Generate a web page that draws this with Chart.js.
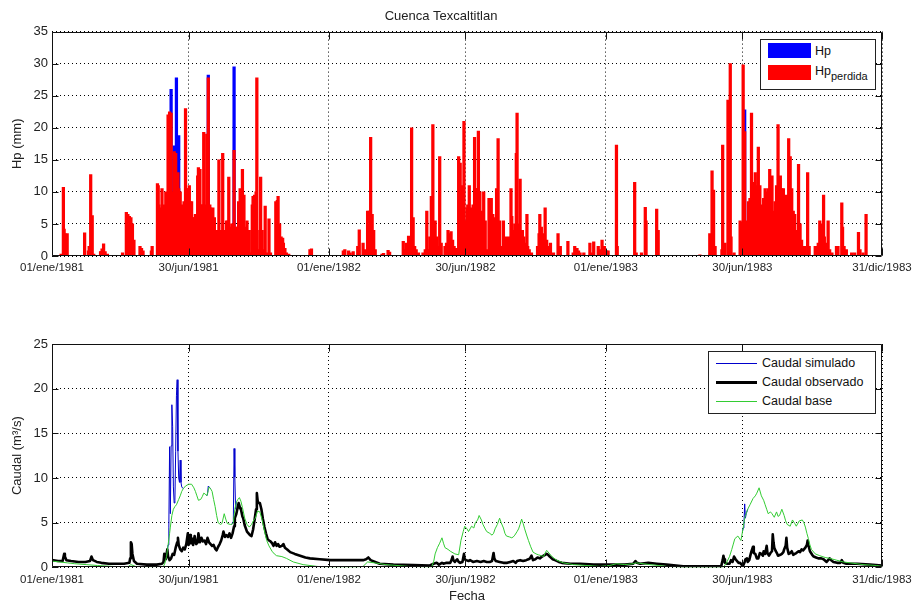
<!DOCTYPE html>
<html lang="es">
<head>
<meta charset="utf-8">
<title>Cuenca Texcaltitlan</title>
<script src="https://cdn.jsdelivr.net/npm/chart.js@4.4.1/dist/chart.umd.min.js"></script>
<style>
  body { margin: 0; width: 916px; height: 604px; background: #fff; position: relative; overflow: hidden;
         font-family: "Liberation Sans", Arial, sans-serif; color: #111; }
  canvas { position: absolute; left: 0; }
  .leyenda { position: absolute; box-sizing: border-box; border: 1px solid #222; background: #fff; font-size: 12.5px; }
  .leyenda span { position: absolute; white-space: nowrap; line-height: 15px; }
  .muestra { width: 43px; height: 15px; }
  .linea { width: 41px; }
  sub { font-size: 11px; vertical-align: -5px; }
</style>
</head>
<body>
<canvas id="graficoHp" width="916" height="290" style="top:0"></canvas>
<canvas id="graficoCaudal" width="916" height="304" style="top:300px"></canvas>

<div class="leyenda" style="left:760px;top:39px;width:116px;height:51px">
  <span class="muestra" style="left:7px;top:3px;background:#0000ff"></span>
  <span style="left:54px;top:4px">Hp</span>
  <span class="muestra" style="left:7px;top:25px;background:#ff0000"></span>
  <span style="left:54px;top:24px">Hp<sub>perdida</sub></span>
</div>

<div class="leyenda" style="left:708px;top:351px;width:168px;height:63px">
  <span class="linea" style="left:7px;top:11px;height:1px;background:#0000cc"></span>
  <span style="left:53px;top:4px">Caudal simulado</span>
  <span class="linea" style="left:7px;top:29px;height:3px;background:#000"></span>
  <span style="left:53px;top:23px">Caudal observado</span>
  <span class="linea" style="left:7px;top:49px;height:1px;background:#33cc33"></span>
  <span style="left:53px;top:42px">Caudal base</span>
</div>

<script>
// dia 0 = 01/ene/1981
const ticksDias = [0, 180, 365, 545, 730, 910, 1094];
const ticksEtiquetas = ['01/ene/1981', '30/jun/1981', '01/ene/1982', '30/jun/1982', '01/ene/1983', '30/jun/1983', '31/dic/1983'];

// Hp perdida (mm) [dia, valor]
const hpPerdida = [
  [12,0.3],[15,10.7],[16,4.2],[17,3.5],[20,3.5],[43,3.6],[48,0.8],[49,1.5],[51,12.7],[53,6.3],[55,0.3],
  [64,0.7],[65,0.7],[66,1.1],[68,1.9],[70,0.7],[73,0.3],[93,0.5],[98,6.8],[100,6.5],[102,6.2],[104,6.0],
  [106,5.0],[108,2.5],[116,1.5],[118,1.2],[120,0.8],[131,0.8],[132,1.5],
  [139,11.3],[140,11],[141,8],[143,7.5],[145,10.5],[147,7],[148,8],[150,10],[151,1],[153,22],[155,22.5],
  [157,22.3],[160,10],[161,16.3],[163,16],[164,10.5],[166,13],[167,10.5],[169,10],[171,8],[172,7.5],
  [174,8.5],[176,23],[177,10.5],[179,10.5],[181,11],[182,8.5],[184,8.5],[186,6],[188,6],[189,6.5],
  [192,12.5],[193,13.8],[195,13.5],[197,8],[198,8],[200,19.3],[202,8],[203,1],[204,19],[206,27.8],
  [208,8],[209,7.5],[211,0.5],[212,7.5],[214,6],[216,3.8],[217,4],[220,15],[221,4],[223,4],[225,16],
  [226,4],[228,4],[230,5.5],[232,5.5],[233,12.3],[235,4.5],[237,5],[239,5],[240,16.5],[242,4.5],
  [244,4.5],[246,8.5],[248,10.5],[250,10],[251,13.5],[253,9.5],[255,4.5],[257,5.5],[258,3],[260,4],
  [262,0.5],[264,8],[265,9.3],[267,9.5],[269,10],[270,27.8],[272,1],[274,4],[275,12.3],[277,4],[279,1],
  [281,7.8],[283,0.5],[286,5.8],[288,0.5],[295,8.5],[297,8.7],[298,9.3],[300,5],[302,3],[304,2.8],
  [305,2],[307,1.2],[309,0.5],[312,0.3],[340,1.0],[342,1.1],
  [384,0.8],[386,1.0],[391,0.8],[393,0.5],[397,0.7],[403,1.5],[405,4.1],[410,2.0],[413,1],[416,7.0],
  [418,7.0],[420,18.5],[422,6.5],[424,4],[426,1],[435,0.3],[437,0.4],[443,0.9],[445,0.6],
  [463,2.3],[465,1],[467,2],[470,3.1],[472,1.5],[474,20],[476,6],[478,1.5],[480,1],[483,0.5],[489,0.5],
  [492,1],[494,7],[496,1],[498,3],[500,9.3],[502,20.5],[503,5.3],[505,5.5],[507,3],[509,1.5],[511,15.5],
  [513,2],[518,1.5],[520,2],[522,4],[525,3.5],[526,3.8],[528,2.5],[530,1.5],[532,1.2],[534,1.2],
  [536,15.5],[538,14.5],[541,11],[543,21],[545,5.5],[547,7.5],[548,8],[550,11],[552,7.5],[554,6],
  [555,8],[557,18.5],[559,10.5],[561,10.5],[562,19.5],[564,10],[566,7],[568,5],[569,10],[571,5.5],
  [573,1],[576,9],[577,9],[579,9],[581,6.5],[583,6],[584,5],[586,10.5],[588,18.3],[590,5.5],[591,1.5],
  [593,1.5],[595,5.5],[597,1.5],[599,3],[601,2.5],[603,3],[605,10.5],[606,6.2],[608,4],[610,5],
  [612,16],[613,22.3],[615,5],[617,12],[619,4],[620,4],[622,3],[624,2],[626,6.5],[627,1.5],[629,1],
  [632,0.5],[640,1.5],[642,3.5],[643,6.5],[645,4.5],[647,3.5],[649,2],[650,7.5],[652,2.5],[654,1.5],
  [657,2],[661,0.5],[667,3.5],[670,1.5],[680,2.3],[687,0.5],[689,1.5],[692,1.2],[694,0.8],[696,0.5],
  [701,0.5],[709,2],[711,0.5],[714,2.2],[720,1.5],[722,1],[725,2.5],[728,1.5],[731,0.8],[733,0.8],
  [744,17.3],[745,1.5],[768,11.5],[770,0.5],[777,0.5],[782,7.6],[783,5.5],[797,7.3],[799,4],[854,0.2],
  [867,3.5],[870,13.3],[872,10.3],[874,1.5],[883,1],[884,17.3],[887,2],[891,24.3],[894,30],[895,3],
  [899,0.5],[907,5.5],[909,5.3],[911,29.8],[913,19.4],[916,5.5],[918,8.5],[920,9],[922,22.3],[924,11.5],
  [927,13],[929,11],[931,17],[933,11],[935,8],[938,9],[940,10.5],[942,10],[944,10.5],[946,13.5],
  [949,12.5],[951,7],[953,8.5],[955,11],[957,20.5],[960,12.5],[962,10.5],[964,10.5],[966,6.5],[968,9.5],
  [971,18.3],[973,15.5],[975,10.5],[977,7],[979,6.5],[982,4],[984,14.3],[986,5],[988,2.5],[990,1.5],
  [992,1.5],[996,13],[998,1.5],[1006,1.5],[1008,1.5],[1010,2],[1012,5.5],[1014,5],[1017,9.5],[1018,3],
  [1021,2],[1023,5.5],[1025,1],[1028,0.5],[1034,1.5],[1036,1.5],[1041,8.3],[1042,4.5],[1044,1.5],
  [1047,1],[1054,0.5],[1058,0.5],[1063,3.7],[1065,1],[1069,0.5],[1073,6.5]
];

// Hp total (mm), dias en que supera a Hp perdida
const hpTotal = [[157,26],[161,17.2],[164,27.8],[167,18.8],[206,28.2],[240,29.5],[913,22.8]];

// Caudal base (m3/s)
const qBase = [
  [0,0.7],[10,0.6],[20,0.5],[30,0.4],[45,0.3],[60,0.2],[80,0.1],[100,0.05],[104,0.3],[110,0.1],[130,0.05],
  [147,0.1],[149,0.5],[151,1.2],[153,2.5],[155,3.8],[156,4.5],[158,5.8],[160,6.5],[162,6.8],[164,7.0],
  [167,7.6],[169,8.0],[171,8.5],[173,8.8],[176,9.1],[180,9.3],[184,9.3],[187,8.9],[189,8.5],[191,8.0],
  [193,7.5],[196,7.6],[198,7.9],[200,8.3],[202,8.2],[204,8.0],[206,8.6],[207,9.0],[209,8.8],[211,8.5],
  [213,7.6],[215,6.8],[217,5.8],[219,5.0],[222,4.8],[224,4.9],[227,6.0],[229,5.4],[231,4.9],[235,4.8],
  [237,4.8],[239,5.0],[241,6.5],[243,7.3],[245,7.6],[247,7.8],[249,7.4],[251,6.7],[254,5.5],[257,4.8],
  [260,4.5],[263,4.8],[266,5.3],[268,5.5],[271,6.3],[274,6.2],[277,5.3],[279,4.5],[281,3.7],[283,3.0],
  [286,2.4],[290,1.8],[293,1.5],[296,1.3],[303,1.2],[309,1.0],[318,0.6],[331,0.3],[349,0.1],[360,0.05],
  [400,0],[410,0.1],[416,0.6],[425,0.5],[440,0.3],[470,0.1],[500,0],[503,0.6],[505,1.5],[508,2.2],
  [511,2.7],[514,3.3],[516,2.7],[518,2.2],[522,2.0],[525,1.8],[531,1.5],[536,1.4],[539,3.0],[542,4.0],
  [544,4.6],[547,4.3],[549,4.0],[551,4.3],[553,4.6],[556,4.4],[558,5.0],[561,5.3],[563,5.8],[566,5.3],
  [568,4.8],[571,4.3],[573,4.0],[577,3.8],[580,3.6],[582,3.8],[584,4.3],[587,4.8],[590,5.5],[592,5.0],
  [595,4.4],[597,3.8],[599,3.5],[603,3.4],[606,3.3],[608,3.4],[610,3.6],[613,4.0],[615,4.3],[617,4.8],
  [619,5.4],[621,4.9],[623,4.3],[626,3.5],[628,3.0],[631,2.3],[634,1.7],[638,1.5],[641,1.4],[645,1.3],
  [648,1.2],[650,1.6],[652,1.9],[655,1.6],[659,1.2],[665,0.8],[674,0.5],[687,0.3],[705,0.2],[722,0.1],
  [735,0.2],[744,0.4],[755,0.3],[766,0.4],[770,0.5],[788,0.3],[800,0.2],[810,0.1],[832,0],[885,0],
  [889,0.5],[893,1.2],[896,2.0],[898,2.6],[900,3.2],[904,3.5],[908,3.0],[911,4.4],[913,5.5],[915,6.0],
  [917,6.5],[920,7.0],[924,7.7],[927,8.0],[929,8.3],[932,8.9],[935,8.0],[938,7.5],[940,7.0],[942,6.5],
  [944,6.0],[947,6.2],[949,6.0],[952,5.6],[955,6.2],[957,5.7],[959,5.8],[962,6.5],[965,5.8],[967,5.2],
  [969,4.8],[973,4.6],[976,5.3],[979,4.9],[981,4.6],[985,5.2],[989,5.3],[991,5.0],[993,4.5],[995,3.8],
  [997,3.2],[999,2.5],[1001,2.0],[1006,1.5],[1012,1.3],[1019,1.1],[1025,1.0],[1034,0.8],[1043,0.6],
  [1052,0.5],[1069,0.3],[1087,0.2],[1094,0.1]
];

// Caudal observado (m3/s)
const qObs = [
  [0,0.8],[8,0.7],[14,0.7],[16,1.5],[17,1.2],[19,0.8],[25,0.7],[35,0.6],[44,0.6],[50,0.7],[52,1.2],
  [54,0.8],[59,0.6],[65,0.5],[75,0.4],[85,0.4],[95,0.4],[102,0.5],[103,1.0],[104,2.8],[105,2.6],[106,1.5],
  [108,0.7],[112,0.4],[125,0.3],[138,0.3],[145,0.4],[147,0.6],[148,1.5],[149,0.9],[150,1.0],[152,2.0],
  [153,1.2],[155,0.8],[157,1.0],[159,1.5],[161,1.4],[163,2.2],[165,2.8],[166,3.3],[167,2.5],[169,2.0],
  [171,1.8],[173,2.2],[175,2.0],[177,2.6],[179,3.8],[180,2.5],[182,3.6],[183,2.7],[185,3.2],[186,2.5],
  [188,3.5],[190,2.6],[192,2.8],[193,3.8],[195,2.8],[197,3.3],[199,2.9],[201,3.0],[203,2.6],[205,3.3],
  [207,2.8],[209,2.6],[211,2.4],[213,2.5],[215,2.1],[217,1.9],[219,2.3],[221,2.6],[223,3.0],[225,3.6],
  [226,4.0],[228,3.4],[230,3.6],[232,3.4],[234,3.8],[236,3.3],[238,3.8],[240,4.6],[241,5.5],[243,6.0],
  [245,6.8],[246,7.2],[248,6.6],[249,6.5],[251,5.7],[252,5.5],[254,4.7],[257,4.0],[259,3.8],[261,3.6],
  [263,3.5],[265,4.2],[267,5.3],[269,6.5],[270,8.3],[271,7.5],[272,7.2],[274,7.2],[276,6.5],[278,5.4],
  [280,4.5],[282,3.8],[284,3.2],[286,3.0],[288,2.9],[290,2.7],[292,2.4],[294,2.8],[296,2.4],[298,2.6],
  [300,2.3],[303,2.4],[305,2.6],[307,2.2],[310,2.0],[314,1.7],[320,1.5],[327,1.3],[334,1.1],[340,1.0],
  [353,0.9],[367,0.8],[380,0.8],[393,0.8],[405,0.8],[410,0.8],[414,0.9],[417,1.1],[420,0.8],[426,0.6],
  [432,0.4],[450,0.3],[476,0.25],[498,0.2],[503,0.4],[507,0.5],[510,0.3],[514,0.5],[516,0.4],[520,0.5],
  [525,0.5],[527,0.9],[528,1.2],[529,0.8],[531,0.6],[534,0.9],[536,0.6],[538,0.5],[541,0.6],[543,1.5],
  [544,0.9],[546,0.8],[549,0.7],[551,0.8],[555,0.6],[560,0.7],[565,0.6],[569,0.7],[573,0.6],[577,0.6],
  [580,0.7],[582,1.6],[583,1.0],[585,0.7],[590,0.6],[595,0.5],[600,0.5],[604,0.6],[608,0.7],[611,0.5],
  [613,0.7],[617,0.8],[621,0.7],[625,0.8],[628,0.9],[630,1.0],[632,1.3],[634,0.8],[637,0.9],[640,1.1],
  [643,1.0],[646,1.2],[648,1.3],[650,1.4],[652,1.5],[654,1.4],[656,1.2],[660,0.9],[663,0.8],[668,0.6],
  [672,0.5],[683,0.4],[696,0.4],[714,0.3],[722,0.3],[740,0.3],[755,0.3],[766,0.4],[769,0.7],[771,0.5],
  [775,0.4],[786,0.5],[797,0.4],[810,0.3],[832,0.1],[867,0.1],[882,0.1],[884,0.8],[885,1.3],[886,0.9],
  [887,0.5],[890,0.4],[893,0.4],[895,0.8],[897,0.6],[899,1.2],[901,0.9],[903,0.7],[905,0.5],[907,0.5],
  [909,0.3],[911,0.2],[913,0.6],[914,0.9],[916,1.0],[917,0.6],[919,0.8],[921,1.5],[922,1.8],[924,2.3],
  [925,1.6],[927,1.5],[929,1.0],[931,1.0],[933,1.6],[935,1.5],[937,1.3],[938,1.8],[940,1.5],[942,2.4],
  [943,1.6],[945,1.3],[947,1.6],[949,1.8],[950,3.7],[951,2.8],[952,2.2],[954,1.8],[956,1.5],[957,1.3],
  [960,1.4],[962,1.5],[964,1.7],[965,2.0],[967,2.4],[968,3.3],[969,2.2],[971,1.5],[973,1.6],[975,1.8],
  [977,1.4],[979,1.5],[981,1.6],[984,1.8],[986,1.7],[988,2.0],[990,1.9],[993,2.2],[995,2.5],[996,3.0],
  [997,2.5],[999,1.8],[1002,1.4],[1004,1.2],[1007,1.1],[1010,1.0],[1014,1.0],[1017,0.9],[1021,0.6],
  [1025,1.0],[1027,0.8],[1030,0.6],[1035,0.5],[1039,0.5],[1041,0.8],[1043,0.5],[1047,0.4],[1061,0.4],
  [1078,0.3],[1094,0.2]
];

// Caudal simulado (m3/s): solo los tramos donde se separa del caudal base (null = corte)
const qSim = [
  [152,1.8],[153,2.5],[154,4.5],[155,13.5],[156,6],[157,13.6],[158,18.2],[159,15.8],[160,9],[161,7.2],
  [162,7.5],[163,13],[164,19.2],[165,21],[166,13],[167,10],[168,9.5],[169,12],[170,9.5],[171,9.0],
  [173,8.8],[185,null],[204,8.0],[205,8.2],[206,9.1],[207,9.0],[209,8.8],[220,null],
  [237,4.8],[238,5.0],[239,5.0],[240,13.3],[241,10.1],[242,6.5],[243,7.3],[260,null],
  [910,4.0],[911,4.4],[912,4.8],[913,7.1],[914,5.5],[915,6.0],[917,6.5]
];

Chart.defaults.font.family = '"Liberation Sans", Arial, sans-serif';
Chart.defaults.color = '#222';

const pts = arr => arr.map(([x, y]) => ({ x, y }));

// marco de los ejes con marcas hacia adentro
const marco = {
  id: 'marco',
  afterDraw(chart) {
    const { ctx, chartArea: a, scales: { x, y } } = chart;
    const l = Math.round(a.left) + 0.5, r = Math.round(a.right) - 0.5;
    const t = Math.round(a.top) + 0.5, b = Math.round(a.bottom) - 0.5;
    ctx.save();
    ctx.strokeStyle = '#111';
    ctx.lineWidth = 1;
    ctx.beginPath();
    ctx.rect(l, t, r - l, b - t);
    x.ticks.forEach(tk => {
      const px = Math.round(x.getPixelForValue(tk.value)) + 0.5;
      ctx.moveTo(px, b); ctx.lineTo(px, b - 7);
      ctx.moveTo(px, t); ctx.lineTo(px, t + 7);
    });
    y.ticks.forEach(tk => {
      const py = Math.round(y.getPixelForValue(tk.value)) + 0.5;
      ctx.moveTo(l, py); ctx.lineTo(l + 6, py);
      ctx.moveTo(r, py); ctx.lineTo(r - 6, py);
    });
    ctx.stroke();
    ctx.restore();
  }
};

function ejeX(alto, pad, titulo) {
  return {
    type: 'linear', min: 0, max: 1094, offset: false,
    afterBuildTicks: s => { s.ticks = ticksDias.map(v => ({ value: v })); },
    afterFit: s => { s.height = alto; s.paddingLeft = 0; s.paddingRight = 0; },
    ticks: { autoSkip: false, maxRotation: 0, padding: pad, font: { size: 11.5 },
             callback: (v, i) => ticksEtiquetas[i] },
    grid: { color: '#000', drawTicks: false, offset: false },
    border: { display: false, dash: [1, 3] },
    title: titulo
      ? { display: true, text: titulo, font: { size: 13 }, padding: { top: 0, bottom: 0 } }
      : { display: false }
  };
}

function ejeY(max, titulo) {
  return {
    min: 0, max: max,
    afterFit: s => { s.width = 52; },
    ticks: { stepSize: 5, padding: 4, font: { size: 13 } },
    grid: { color: '#000', drawTicks: false },
    border: { display: false, dash: [1, 3] },
    title: { display: true, text: titulo, font: { size: 13 }, padding: { top: 10, bottom: 0 } }
  };
}

const comunes = {
  responsive: false,
  animation: false,
  devicePixelRatio: 1,
  events: []
};

new Chart(document.getElementById('graficoHp'), {
  type: 'bar',
  data: {
    datasets: [
      { label: 'Hp', data: pts(hpTotal), backgroundColor: '#0000ff', order: 1 },
      { label: 'Hp perdida', data: pts(hpPerdida), backgroundColor: '#ff0000', order: 0 }
    ]
  },
  options: {
    ...comunes,
    grouped: false,
    datasets: { bar: { barThickness: 2.6, borderWidth: 0, grouped: false } },
    layout: { padding: { left: 0, right: 34, top: 0, bottom: 0 } },
    plugins: {
      legend: { display: false },
      tooltip: { enabled: false },
      title: { display: true, text: 'Cuenca Texcaltitlan', font: { size: 13, weight: 'normal' },
               color: '#222', padding: { top: 9, bottom: 7 } }
    },
    scales: { x: ejeX(34, 5), y: ejeY(35, 'Hp (mm)') }
  },
  plugins: [marco]
});

new Chart(document.getElementById('graficoCaudal'), {
  type: 'line',
  data: {
    datasets: [
      { label: 'Caudal simulado', data: pts(qSim), borderColor: '#0000cc', borderWidth: 1, order: 2 },
      { label: 'Caudal observado', data: pts(qObs), borderColor: '#000', borderWidth: 2.6, order: 1 },
      { label: 'Caudal base', data: pts(qBase), borderColor: '#3c3', borderWidth: 1, order: 0 }
    ]
  },
  options: {
    ...comunes,
    elements: { point: { radius: 0 }, line: { tension: 0, borderJoinStyle: 'round' } },
    spanGaps: false,
    layout: { padding: { left: 0, right: 34, top: 44, bottom: 0 } },
    plugins: { legend: { display: false }, tooltip: { enabled: false } },
    scales: { x: ejeX(36.7, 6, 'Fecha'), y: ejeY(25, 'Caudal (m³/s)') }
  },
  plugins: [marco]
});
</script>
</body>
</html>
